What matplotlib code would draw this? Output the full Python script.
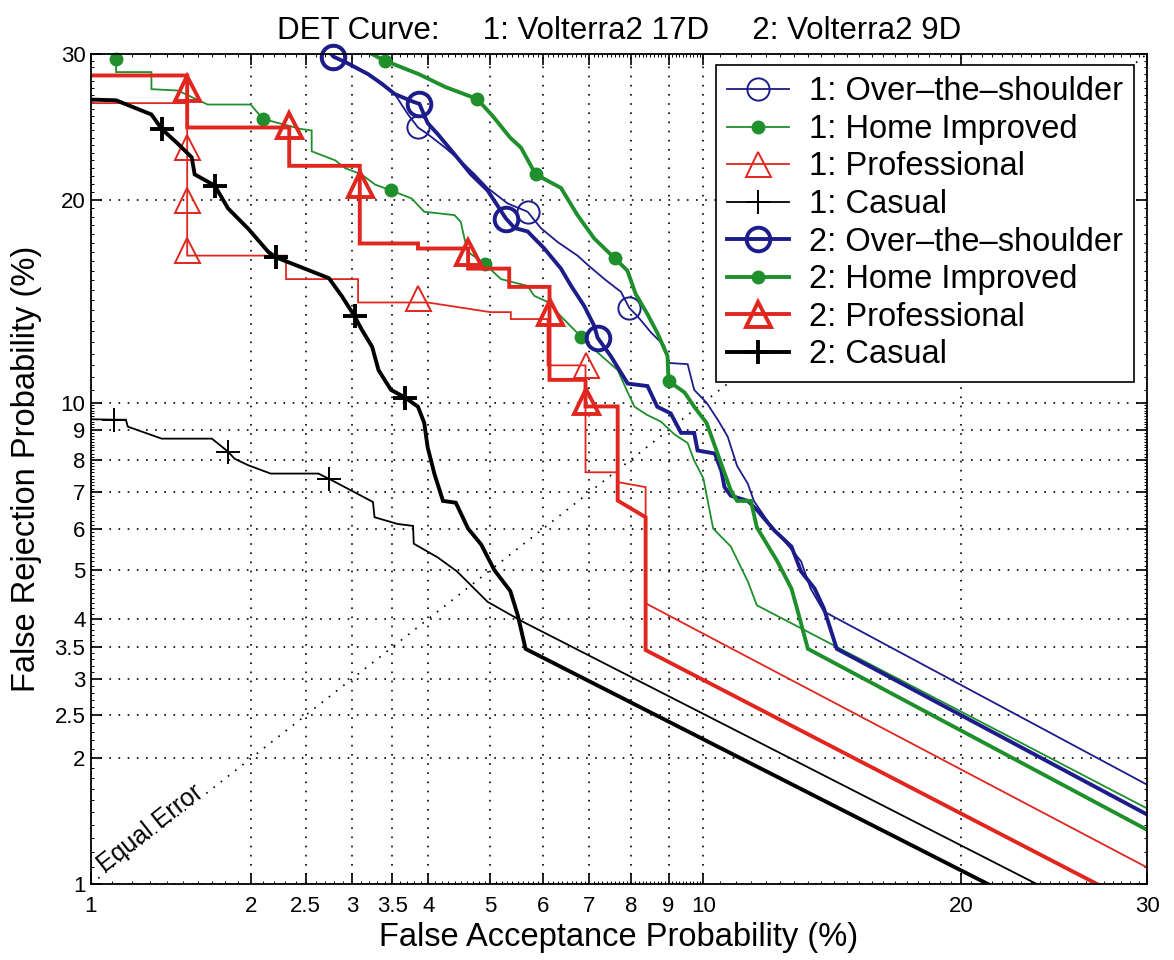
import numpy as np
import matplotlib
matplotlib.use("Agg")
import matplotlib.pyplot as plt
from matplotlib.ticker import FixedLocator
from statistics import NormalDist

plt.rcParams['font.family'] = ['Liberation Sans', 'DejaVu Sans']

# Tick values (both axes are in %)
tick_vals = [1, 2, 2.5, 3, 3.5, 4, 5, 6, 7, 8, 9, 10, 20, 30]
tick_labels = ['1', '2', '2.5', '3', '3.5', '4', '5', '6', '7', '8', '9', '10', '20', '30']

# 1: Over-the-shoulder (Volterra2 17D)
ots1_fa = [2.74, 2.79, 2.95, 3.19, 3.36, 3.53, 3.71, 3.85, 3.99, 4.25, 4.5, 4.73, 4.95, 5.31, 5.69,
           5.95, 6.3, 6.73, 6.96, 7.35, 7.75, 7.96, 8.17, 8.52, 8.88, 9.01, 9.54, 9.73, 10.1, 10.45,
           10.75, 11.05, 11.4, 11.6, 12.15, 12.75, 13.25, 13.6, 14.1, 30]
ots1_fr = [30.2, 29.8, 29.3, 28.5, 27.8, 27.05, 25.6, 24.7, 24.25, 23.35, 22.45, 21.6, 20.75, 19.8, 19.3,
           18.35, 17.55, 16.8, 16.3, 15.55, 14.9, 14.1, 13.7, 12.95, 12.35, 11.6, 11.55, 10.5, 10.0, 9.35,
           8.77, 7.8, 7.25, 6.75, 6.1, 5.6, 5.2, 4.6, 4.14, 1.74]
ots1_mk_fa = [2.79, 3.85, 5.69, 7.96]
ots1_mk_fr = [29.8, 24.7, 19.3, 14.1]

# 1: Home Improved
hi1_fa = [1.12, 1.12, 1.12, 1.31, 1.31, 1.47, 1.67, 2.0, 2.1, 2.45, 2.56, 2.56, 2.81, 2.92, 3.11,
          3.28, 3.48, 3.76, 3.94, 4.4, 4.5, 4.56, 4.62, 4.9, 5.19, 5.69, 5.82, 6.09, 6.37, 6.81,
          7.19, 7.67, 7.92, 8.09, 8.41, 8.79, 9.16, 9.54, 9.73, 10.0, 10.3, 10.85, 11.4, 11.7, 30]
hi1_fr = [31, 29.65, 28.65, 28.65, 27.4, 27.3, 26.3, 26.3, 25.3, 24.6, 24.5, 23.1, 22.5, 22.0, 21.6,
          20.95, 20.6, 20.1, 19.3, 19.1, 18.7, 17.75, 17.0, 16.35, 15.55, 15.2, 14.7, 14.4, 13.7, 12.75,
          12.05, 11.3, 10.4, 9.85, 9.55, 9.3, 8.85, 8.55, 7.97, 7.42, 6.0, 5.55, 4.75, 4.26, 1.53]
hi1_mk_fa = [1.12, 2.1, 3.48, 4.9, 6.81]
hi1_mk_fr = [29.65, 25.3, 20.6, 16.35, 12.75]

# 1: Professional
pro1_fa = [0.9, 1.53, 1.53, 2.31, 2.31, 3.07, 3.07, 3.99, 5.0, 5.37, 5.37, 6.09, 6.09, 6.91,
           6.91, 7.67, 7.67, 8.38, 8.38, 30]
pro1_fr = [26.4, 26.4, 16.8, 16.8, 15.55, 15.55, 14.37, 14.37, 13.9, 13.9, 13.57, 13.57, 11.5, 11.5,
           7.6, 7.6, 7.3, 7.15, 4.3, 1.1]
pro1_mk_fa = [1.53, 1.53, 1.53, 3.85, 6.91]
pro1_mk_fr = [23.4, 20.0, 17.1, 14.6, 11.5]

# 1: Casual
cas1_fa = [0.9, 1.11, 1.17, 1.18, 1.37, 1.70, 1.82, 1.87, 1.98, 2.17, 2.63, 2.74, 2.88, 3.25,
           3.27, 3.57, 3.78, 3.79, 4.14, 4.44, 4.95, 5.59, 23.8]
cas1_fr = [9.4, 9.37, 9.37, 9.12, 8.7, 8.7, 8.26, 8.03, 7.82, 7.56, 7.56, 7.4, 7.2, 6.72,
           6.3, 6.12, 6.07, 5.62, 5.29, 4.97, 4.33, 3.95, 1.0]
cas1_mk_fa = [1.11, 1.82, 2.74]
cas1_mk_fr = [9.37, 8.26, 7.4]

# 2: Over-the-shoulder (Volterra2 9D)
ots2_fa = [2.74, 2.79, 2.95, 3.19, 3.36, 3.53, 3.78, 3.87, 3.99, 4.14, 4.4, 4.67, 4.95, 5.28, 5.44,
           5.69, 6.02, 6.37, 6.59, 6.88, 7.11, 7.19, 7.5, 7.92, 8.43, 8.69, 9.06, 9.35, 9.73, 9.83,
           10.35, 10.55, 10.65, 10.85, 11.4, 11.7, 12.3, 12.9, 13.25, 13.75, 14.1, 14.6, 30]
ots2_fr = [30.2, 29.8, 29.3, 28.5, 27.8, 27.05, 26.5, 26.35, 25.0, 24.25, 22.9, 21.6, 20.6, 18.9, 18.35,
           18.15, 17.2, 16.1, 15.2, 14.2, 13.25, 12.7, 11.9, 10.75, 10.65, 9.85, 9.6, 8.9, 8.9, 8.3,
           8.2, 7.65, 7.15, 6.9, 6.75, 6.5, 5.95, 5.55, 4.97, 4.6, 4.2, 3.47, 1.48]
ots2_mk_fa = [2.79, 3.87, 5.28, 7.19]
ots2_mk_fr = [29.8, 26.35, 18.9, 12.7]

# 2: Home Improved
hi2_fa = [3.08, 3.4, 3.86, 4.26, 4.77, 5.04, 5.36, 5.56, 5.85, 6.37, 6.73, 7.11, 7.6, 7.91, 8.12,
          8.43, 8.7, 8.97, 9.0, 9.45, 9.73, 10.1, 10.45, 10.85, 11.05, 11.5, 11.7, 12.4, 12.9, 13.1,
          13.5, 30]
hi2_fr = [30.5, 29.5, 28.5, 27.55, 26.7, 25.5, 24.0, 23.35, 21.6, 20.75, 19.1, 17.75, 16.65, 16.0, 14.8,
          13.8, 12.9, 11.9, 10.85, 10.4, 9.85, 9.25, 8.15, 7.05, 6.75, 6.75, 6.03, 5.2, 4.6, 4.2,
          3.47, 1.36]
hi2_mk_fa = [3.4, 4.77, 5.85, 7.6, 9.0]
hi2_mk_fr = [29.5, 26.7, 21.6, 16.65, 10.85]

# 2: Professional
pro2_fa = [0.9, 1.53, 1.53, 2.34, 2.34, 3.09, 3.09, 3.85, 3.85, 4.62, 4.62, 5.34, 5.34, 6.13,
           6.13, 6.91, 6.91, 7.67, 7.67, 8.38, 8.38, 27.1]
pro2_fr = [28.4, 28.4, 24.7, 24.7, 22.15, 22.15, 17.47, 17.47, 17.19, 17.19, 16.1, 16.1, 15.15, 15.15,
           10.9, 10.9, 9.86, 9.86, 6.76, 6.3, 3.45, 1.0]
pro2_mk_fa = [1.53, 2.34, 3.09, 4.62, 6.13, 6.91]
pro2_mk_fr = [27.5, 24.9, 21.0, 17.0, 13.9, 10.05]

# 2: Casual
cas2_fa = [0.9, 1.12, 1.31, 1.37, 1.47, 1.56, 1.58, 1.72, 1.82, 1.98, 2.15, 2.22, 2.49, 2.74, 2.88,
           3.03, 3.11, 3.24, 3.32, 3.48, 3.67, 3.85, 3.94, 3.99, 4.09, 4.22, 4.42, 4.62, 4.84, 5.07,
           5.36, 5.5, 5.65, 21.3]
cas2_fr = [26.7, 26.6, 25.6, 24.6, 23.6, 22.7, 21.6, 20.9, 19.5, 18.3, 17.0, 16.7, 16.1, 15.6, 14.7,
           13.7, 13.1, 12.3, 11.3, 10.5, 10.2, 9.85, 9.25, 8.4, 7.55, 6.75, 6.7, 6.0, 5.6, 5.0,
           4.55, 4.07, 3.47, 1.0]
cas2_mk_fa = [1.37, 1.72, 2.22, 3.03, 3.67]
cas2_mk_fr = [24.6, 20.9, 16.7, 13.7, 10.2]

equal_error = [1, 30]

BLUE = '#1c1c8a'
GREEN = '#1f8f2c'
RED = '#e0261f'
BLACK = '#000000'

_nd = NormalDist()


def probit(p):
    """Normal deviate of a percentage."""
    p = np.clip(np.asarray(p, dtype=float), 1e-4, 100 - 1e-4)
    return np.vectorize(lambda v: _nd.inv_cdf(v / 100.0), otypes=[float])(p)


def inv_probit(z):
    z = np.asarray(z, dtype=float)
    return np.vectorize(lambda v: _nd.cdf(v) * 100.0, otypes=[float])(z)


fig = plt.figure(figsize=(11.74, 9.6), dpi=100)
ax = fig.add_axes([91 / 1174, 1 - 884 / 960, 1056 / 1174, 830 / 960])
ax.set_xscale('function', functions=(probit, inv_probit))
ax.set_yscale('function', functions=(probit, inv_probit))

dots = (0, (1, 4.5))
ax.plot(equal_error, equal_error, color='k', lw=1.2, linestyle=dots)
ax.text(1.065, 1.065, 'Equal Error', rotation=38.2, rotation_mode='anchor',
        ha='left', va='baseline', fontsize=18)

series = [
    # label, x, y, marker x, marker y, colour, line width, marker, size, face, edge width
    ('1: Over–the–shoulder', ots1_fa, ots1_fr, ots1_mk_fa, ots1_mk_fr, BLUE, 1.3, 'o', 16, 'none', 1.4),
    ('1: Home Improved', hi1_fa, hi1_fr, hi1_mk_fa, hi1_mk_fr, GREEN, 1.3, 'o', 9, GREEN, 1.0),
    ('1: Professional', pro1_fa, pro1_fr, pro1_mk_fa, pro1_mk_fr, RED, 1.3, '^', 18, 'none', 1.4),
    ('1: Casual', cas1_fa, cas1_fr, cas1_mk_fa, cas1_mk_fr, BLACK, 1.3, '+', 17, 'none', 1.4),
    ('2: Over–the–shoulder', ots2_fa, ots2_fr, ots2_mk_fa, ots2_mk_fr, BLUE, 2.8, 'o', 17, 'none', 2.8),
    ('2: Home Improved', hi2_fa, hi2_fr, hi2_mk_fa, hi2_mk_fr, GREEN, 2.8, 'o', 9, GREEN, 1.0),
    ('2: Professional', pro2_fa, pro2_fr, pro2_mk_fa, pro2_mk_fr, RED, 2.8, '^', 18, 'none', 2.8),
    ('2: Casual', cas2_fa, cas2_fr, cas2_mk_fa, cas2_mk_fr, BLACK, 2.8, '+', 17, 'none', 2.8),
]

handles = []
labels = []
for lab, xs, ys, mx, my, col, lw, mk, ms, mfc, mew in series:
    ln, = ax.plot(xs, ys, color=col, lw=lw, solid_joinstyle='miter')
    pts, = ax.plot(mx, my, ls='none', marker=mk, ms=ms, mfc=mfc, mec=col, mew=mew, clip_on=False)
    handles.append((ln, pts))
    labels.append(lab)

ax.set_xlim(1, 30)
ax.set_ylim(1, 30)
ax.set_xticks(tick_vals)
ax.set_xticklabels(tick_labels)
ax.set_yticks(tick_vals)
ax.set_yticklabels(tick_labels)
minor = list(np.round(np.arange(1.1, 10, 0.1), 2)) + list(np.arange(10.5, 30, 0.5))
ax.xaxis.set_minor_locator(FixedLocator(minor))
ax.yaxis.set_minor_locator(FixedLocator(minor))
ax.tick_params(which='major', direction='in', length=8, width=1.2, top=True, right=True,
               labelsize=16, pad=9)
ax.tick_params(axis='y', which='major', pad=4)
ax.tick_params(which='minor', direction='in', length=2.5, width=0.7, top=True, right=True)
ax.grid(True, which='major', color='k', linestyle=dots, linewidth=1.2)
for s in ax.spines.values():
    s.set_linewidth(1.3)

ax.set_title('DET Curve:     1: Volterra2 17D     2: Volterra2 9D', fontsize=22.5, pad=11)
ax.set_xlabel('False Acceptance Probability (%)', fontsize=23.5, labelpad=3)
ax.set_ylabel('False Rejection Probability (%)', fontsize=23.5, labelpad=9)

leg = ax.legend(handles, labels, loc='upper right', bbox_to_anchor=(1134 / 1174, 1 - 65 / 960),
                bbox_transform=fig.transFigure, borderaxespad=0, fontsize=23.5, numpoints=1,
                fancybox=False, edgecolor='k', framealpha=1, handlelength=1.9,
                handletextpad=0.6, labelspacing=0.2, borderpad=0.35)
leg.get_frame().set_linewidth(1.2)

fig.savefig('out.png', dpi=100)
